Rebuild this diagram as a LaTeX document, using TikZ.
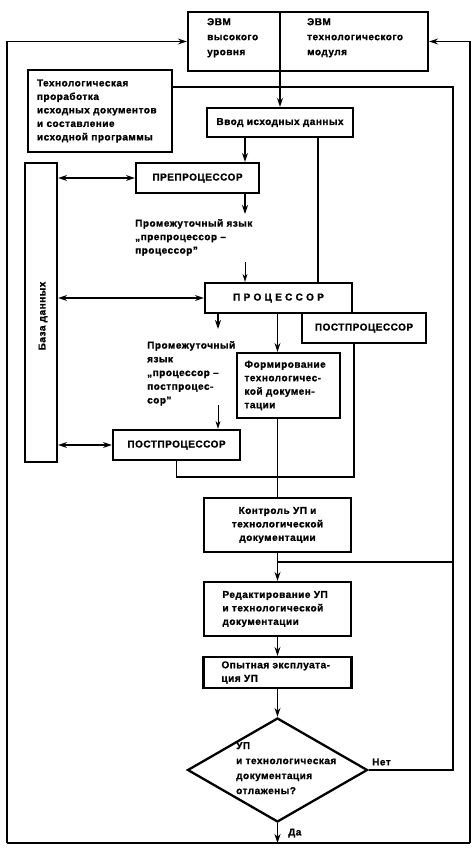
\documentclass[tikz,border=0pt]{standalone}
\usepackage{fontspec}
\setmainfont{Liberation Sans}[LetterSpace=5, BoldFeatures={FakeBold=1.2}]
\usetikzlibrary{shapes.geometric,arrows.meta}
\newcommand\txt{\fontsize{10}{13.5}\selectfont\bfseries}
\begin{document}
\begin{tikzpicture}[x=1pt,y=-1pt,
  box/.style={draw, line width=2.3pt, inner sep=0pt, font=\txt},
  ln/.style={line width=1.6pt},
  arr/.style={ln, -{Stealth[length=9pt,width=6pt]}},
  arrthin/.style={line width=1pt, -{Stealth[length=8pt,width=5pt]}},
  darr/.style={ln, {Stealth[length=9pt,width=6pt]}-{Stealth[length=9pt,width=6pt]}},
  lbl/.style={inner sep=0pt, align=left, anchor=north west, font=\txt}]
\useasboundingbox (0,0) rectangle (475,855);
% boxes
\node[box, minimum width=240pt, minimum height=59pt] (evm) at (308,41.5) {};
\coordinate (dv1) at (280,12); \coordinate (dv2) at (280,71);
\draw[ln] (dv1) -- (dv2);
\node[lbl, font=\fontsize{10}{15}\selectfont\bfseries] (evml) at (207,18) {ЭВМ\\высокого\\уровня};
\node[lbl, font=\fontsize{10}{15}\selectfont\bfseries] (evmr) at (307,18) {ЭВМ\\технологического\\модуля};
\node[box, minimum width=144pt, minimum height=82pt, text width=126pt, align=left] (tech) at (100,111)
  {Технологическая\\проработка\\исходных документов\\и составление\\исходной программы};
\node[box, minimum width=146pt, minimum height=29pt] (vvod) at (280,122.5) {Ввод исходных данных};
\node[box, minimum width=123pt, minimum height=30pt] (prep) at (197.5,178) {ПРЕПРОЦЕССОР};
\node[lbl] (l1) at (135,219) {Промежуточный язык\\„препроцессор –\\процессор”};
\node[box, minimum width=147pt, minimum height=30pt] (proc) at (278.5,298) {П Р О Ц Е С С О Р};
\node[box, minimum width=124pt, minimum height=30pt] (post1) at (364,328) {ПОСТПРОЦЕССОР};
\node[lbl, font=\fontsize{10}{13.7}\selectfont\bfseries] (l2) at (147,341) {Промежуточный\\язык\\„процессор –\\постпроцес-\\сор”};
\node[box, minimum width=103pt, minimum height=65pt, text width=88pt, align=left] (form) at (288.5,385.5)
  {Формирование\\технологичес-\\кой докумен-\\тации};
\node[box, minimum width=127pt, minimum height=30pt] (post2) at (176.5,445) {ПОСТПРОЦЕССОР};
\node[box, minimum width=32pt, minimum height=299pt] (baza) at (41,312.5) {};
\node[rotate=90, font=\txt, inner sep=0pt] (bazat) at (43,316) {База данных};
\node[box, minimum width=147pt, minimum height=54pt, align=center] (kontr) at (277.5,525)
  {Контроль УП и\\технологической\\документации};
\node[box, minimum width=147pt, minimum height=54pt, text width=110pt, align=left] (red) at (277.5,609)
  {Редактирование УП\\и технологической\\документации};
\node[box, minimum width=148pt, minimum height=31pt, text width=112pt, align=left] (op) at (277.5,672.5)
  {Опытная эксплуата-\\ция УП};
\node[draw, diamond, line width=2.3pt, minimum width=180pt, minimum height=104pt, inner sep=0pt] (dia) at (277.5,770) {};
\node[lbl, font=\fontsize{10}{15}\selectfont\bfseries] (dtext) at (236,742) {УП\\и технологическая\\документация\\отлажены?};
\node[font=\txt, anchor=west, inner sep=0pt] (net) at (372,762) {Нет};
\node[font=\txt, anchor=west, inner sep=0pt] (da) at (288,833) {Да};
% coordinates
\coordinate (botL) at (7,843);
\coordinate (botR) at (470,843);
\coordinate (xa) at (245,0);
\coordinate (xb) at (318,0);
\coordinate (xc) at (218,0);
\coordinate (p1) at (245,214);
\coordinate (p2) at (245,262);
\coordinate (p3) at (218,329);
\coordinate (p4) at (218,405);
\coordinate (jn) at (354,477);
\coordinate (rj) at (453,562);
\coordinate (rt) at (453,87);
% connectors
\draw[arr] (botL) |- (evm.west);
\draw[arr] (botR) |- (evm.east);
\draw[ln] (botL) -- (botR);
\draw[arr] (dia.south) -- (dia.south |- botL);
\draw[arr] (vvod.north |- evm.south) -- (vvod.north);
\draw[arr] (vvod.south -| xa) -- (prep.north -| xa);
\draw[ln] (vvod.south -| xb) -- (proc.north -| xb);
\draw[arr] (prep.south -| xa) -- (p1);
\draw[arrthin] (p2) -- (proc.north -| xa);
\draw[darr] (baza.east |- prep.west) -- (prep.west);
\draw[darr] (baza.east |- proc.west) -- (proc.west);
\draw[darr] (baza.east |- post2.west) -- (post2.west);
\draw[arr] (proc.south -| xc) -- (p3);
\draw[arr] (proc.south -| kontr.north) -- (form.north -| kontr.north);
\draw[arrthin] (p4) -- (post2.north -| xc);
\draw[ln] (post2.south) |- (jn) -- (post1.south -| jn);
\draw[ln] (form.south -| kontr.north) -- (kontr.north);
\draw[arr] (kontr.south) -- (red.north);
\draw[ln] (rj) -- (rj -| kontr.south);
\draw[arr] (red.south) -- (op.north);
\draw[arr] (op.south) -- (dia.north);
\draw[ln] (tech.east |- rt) -- (rt) |- (dia.east);
\end{tikzpicture}
\end{document}
